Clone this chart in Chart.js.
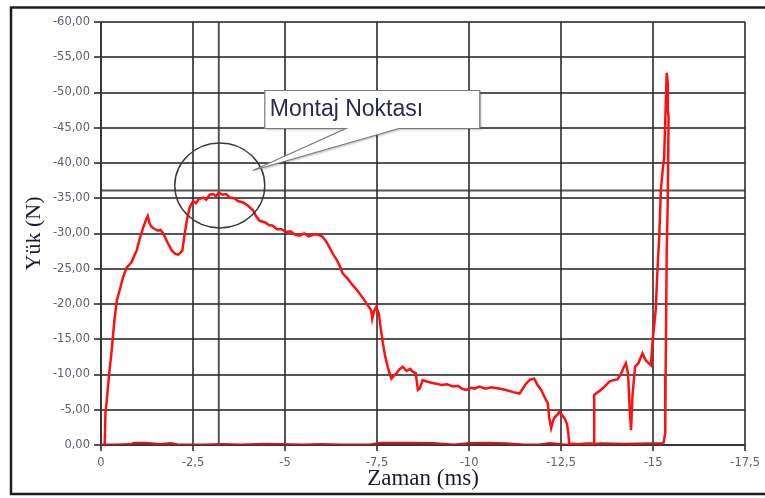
<!DOCTYPE html>
<html>
<head>
<meta charset="utf-8">
<script src="https://cdn.jsdelivr.net/npm/chart.js@4.4.1/dist/chart.umd.min.js"></script>
<style>
  html, body { margin: 0; padding: 0; background: #ffffff; }
  #wrap { width: 765px; height: 498px; }
  canvas { display: block; background: #ffffff; }
</style>
</head>
<body>
<div id="wrap"><canvas id="chart" width="765" height="498"></canvas></div>
<script>
// Load trace (time in ms, load in N): rise, plateau, release and final spike
const loadTime = [
  -0.10, -0.12, -0.16, -0.22, -0.29, -0.36, -0.43, -0.52, -0.60, -0.70,
  -0.83, -0.90, -0.97, -1.06, -1.15, -1.22, -1.27, -1.32, -1.38, -1.47,
  -1.55, -1.62, -1.69, -1.80, -1.92, -2.02, -2.10, -2.16, -2.21, -2.27,
  -2.33, -2.41, -2.50, -2.58, -2.66, -2.78, -2.86, -2.95, -3.05, -3.12,
  -3.20, -3.30, -3.40, -3.50, -3.62, -3.72, -3.86, -3.98, -4.13, -4.22,
  -4.31, -4.45, -4.56, -4.67, -4.78, -4.90, -5.04, -5.15, -5.28, -5.40,
  -5.52, -5.64, -5.81, -5.92, -6.03, -6.15, -6.30, -6.40, -6.48, -6.57,
  -6.70, -6.85, -6.98, -7.12, -7.25, -7.34, -7.37, -7.42, -7.48, -7.55,
  -7.60, -7.66, -7.72, -7.79, -7.85, -7.89, -7.95, -8.02, -8.10, -8.20,
  -8.30, -8.40, -8.47, -8.55, -8.61, -8.66, -8.74, -8.85, -9.00, -9.11,
  -9.25, -9.40, -9.56, -9.70, -9.80, -9.92, -10.05, -10.15, -10.28, -10.45,
  -10.60, -10.82, -11.00, -11.20, -11.37, -11.45, -11.55, -11.66, -11.77, -11.86,
  -11.96, -12.05, -12.14, -12.18, -12.23, -12.28, -12.32, -12.40, -12.45, -12.52,
  -12.59, -12.66, -12.70, -12.72, -13.00, -13.20, -13.40, -13.40, -13.50, -13.58,
  -13.70, -13.81, -13.92, -14.03, -14.12, -14.20, -14.26, -14.32, -14.36, -14.40,
  -14.44, -14.51, -14.60, -14.71, -14.80, -14.88, -14.94, -14.99, -15.07, -15.12,
  -15.17, -15.21, -15.26, -15.30, -15.33, -15.37, -15.40, -15.40, -15.42, -15.40,
  -15.37, -15.34, -15.33, -15.28
];
const loadForce = [
  0.0, -4.5, -6.5, -10.0, -13.4, -17.5, -20.5, -22.2, -23.8, -25.2,
  -25.9, -26.8, -27.6, -29.4, -30.9, -31.9, -32.5, -31.4, -30.9, -30.6,
  -30.4, -30.5, -30.0, -28.8, -27.6, -27.1, -27.0, -27.3, -27.6, -29.8,
  -31.8, -33.7, -34.6, -34.3, -34.9, -35.1, -34.8, -35.5, -35.6, -35.3,
  -35.8, -35.5, -35.6, -35.1, -35.0, -34.6, -34.4, -34.0, -33.3, -32.4,
  -31.8, -31.6, -31.2, -31.1, -30.6, -30.6, -30.2, -30.3, -29.8, -29.7,
  -30.0, -29.6, -29.9, -29.8, -29.5, -28.6, -27.1, -26.3, -25.5, -24.3,
  -23.6, -22.6, -21.8, -20.8, -19.8, -19.1, -17.9, -19.0, -19.6, -18.6,
  -16.5, -14.4, -12.6, -11.1, -10.0, -9.4, -9.8, -10.1, -10.7, -11.1,
  -10.5, -10.8, -10.4, -10.2, -7.8, -8.0, -9.2, -9.0, -8.8, -8.7,
  -8.5, -8.6, -8.3, -8.4, -8.0, -7.8, -8.1, -8.0, -8.3, -8.0,
  -8.2, -8.0, -7.8, -7.5, -7.3, -7.9, -8.7, -9.3, -9.4, -8.5,
  -7.8, -6.8, -5.9, -3.8, -2.4, -3.4, -3.9, -4.3, -4.7, -4.3,
  -3.8, -3.0, -1.5, -0.2, -0.1, -0.2, -0.2, -7.1, -7.5, -7.8,
  -8.4, -9.0, -9.2, -9.3, -10.0, -11.0, -11.6, -10.1, -5.5, -2.1,
  -7.0, -11.1, -11.6, -13.0, -12.0, -11.6, -11.3, -14.9, -19.1, -25.0,
  -30.0, -36.1, -39.0, -40.8, -46.0, -52.8, -51.2, -47.5, -46.5, -35.0,
  -27.6, -10.0, -1.7, -0.2
];
// Return path along the zero line
const returnTime = [
  -15.28, -15.0, -14.2, -13.6, -13.0, -12.6, -12.2, -11.9, -11.5, -11.0,
  -10.5, -10.0, -9.6, -9.0, -8.4, -7.6, -7.3, -6.5, -6.0, -5.5,
  -4.5, -3.8, -3.3, -2.8, -2.1, -1.9, -1.6, -1.2, -0.9, -0.8,
  -0.4, 0.0
];
const returnForce = [
  -0.2, -0.2, -0.15, -0.2, -0.05, -0.05, -0.25, -0.05, -0.05, -0.2,
  -0.3, -0.25, -0.05, -0.25, -0.3, -0.3, -0.05, -0.05, -0.1, -0.05,
  -0.15, -0.05, -0.1, -0.05, -0.05, -0.25, -0.1, -0.3, -0.3, -0.1,
  -0.05, -0.05
];
const timeTicks = [0, -2.5, -5, -7.5, -10, -12.5, -15, -17.5];
const loadTicks = [0, -5, -10, -15, -20, -25, -30, -35, -40, -45, -50, -55, -60];

// Mounting point marker
const markerTime = -3.2;
const markerLoad = -36.1;
const markerLabel = 'Montaj Noktası';

const gridColor = 'rgba(48,48,48,0.82)';
const tickColor = '#5f6070';
const titleColor = '#1b1b36';

const decorations = {
  id: 'decorations',
  beforeDatasetsDraw(chart) {
    const { ctx, chartArea: a, scales: { x, y } } = chart;
    const px = x.getPixelForValue(markerTime);
    const py = y.getPixelForValue(markerLoad);
    ctx.save();
    ctx.strokeStyle = gridColor;
    ctx.lineWidth = 2;
    ctx.beginPath();
    ctx.moveTo(px, a.top); ctx.lineTo(px, a.bottom);
    ctx.moveTo(a.left, py); ctx.lineTo(a.right, py);
    ctx.stroke();
    ctx.restore();
  },
  afterDatasetsDraw(chart) {
    const { ctx, scales: { x, y } } = chart;
    const px = x.getPixelForValue(markerTime);
    const py = y.getPixelForValue(markerLoad);
    ctx.save();
    // ring around the mounting point
    ctx.strokeStyle = '#3a3a3a';
    ctx.lineWidth = 1.5;
    ctx.beginPath();
    ctx.ellipse(px + 1, py - 5, 45, 42.5, 0, 0, Math.PI * 2);
    ctx.stroke();

    // callout with tail
    const bx = px + 46, by = py - 100, bw = 215, bh = 38;
    const tipX = px + 34, tipY = py - 20;
    ctx.shadowColor = 'rgba(0,0,0,0.25)';
    ctx.shadowOffsetX = 1.5;
    ctx.shadowOffsetY = 1.5;
    ctx.shadowBlur = 2;
    ctx.fillStyle = '#ffffff';
    ctx.strokeStyle = '#7a7a7a';
    ctx.lineWidth = 1.2;
    ctx.beginPath();
    ctx.moveTo(bx, by);
    ctx.lineTo(bx + bw, by);
    ctx.lineTo(bx + bw, by + bh);
    ctx.lineTo(bx + 134, by + bh);
    ctx.lineTo(tipX, tipY);
    ctx.lineTo(bx + 81, by + bh);
    ctx.lineTo(bx, by + bh);
    ctx.closePath();
    ctx.fill();
    ctx.shadowColor = 'transparent';
    ctx.stroke();

    ctx.fillStyle = '#2a2a52';
    ctx.font = '23px "Liberation Sans", Arial, sans-serif';
    ctx.textBaseline = 'middle';
    ctx.textAlign = 'left';
    ctx.fillText(markerLabel, bx + 5, by + bh / 2);
    ctx.restore();
  },
  afterDraw(chart) {
    const { ctx, width, height } = chart;
    ctx.save();
    ctx.strokeStyle = '#1e1e1e';
    ctx.lineWidth = 2.5;
    ctx.beginPath();
    ctx.moveTo(width + 5, 7.5);
    ctx.lineTo(11, 7.5);
    ctx.lineTo(11, height - 4);
    ctx.lineTo(width + 5, height - 4);
    ctx.stroke();
    ctx.restore();
  }
};

const toPoints = (xs, ys) => xs.map((t, i) => ({ x: t, y: ys[i] }));

new Chart(document.getElementById('chart'), {
  type: 'scatter',
  data: {
    datasets: [
      {
        data: toPoints(loadTime, loadForce),
        showLine: true,
        borderColor: '#ff1010',
        borderWidth: 2.5,
        pointRadius: 0,
        tension: 0
      },
      {
        data: toPoints(returnTime, returnForce),
        showLine: true,
        borderColor: '#c41a1a',
        borderWidth: 2.5,
        pointRadius: 0,
        tension: 0
      }
    ]
  },
  options: {
    responsive: false,
    animation: false,
    events: [],
    layout: { padding: { left: 0, right: 19, top: 22, bottom: 0 } },
    plugins: { legend: { display: false }, tooltip: { enabled: false } },
    scales: {
      x: {
        type: 'linear',
        reverse: true,
        min: -17.5,
        max: 0,
        afterBuildTicks(scale) { scale.ticks = timeTicks.map(v => ({ value: v })); },
        afterFit(scale) { scale.height = 53; },
        grid: { color: gridColor, lineWidth: 2, tickLength: 6 },
        border: { color: gridColor, width: 2 },
        ticks: {
          autoSkip: false,
          maxRotation: 0,
          padding: 5,
          color: tickColor,
          font: { family: '"DejaVu Sans", sans-serif', size: 11.5 },
          callback: v => (v === 0 ? '0' : String(Math.round(v * 10) / 10).replace('.', ','))
        },
        title: {
          display: true,
          text: 'Zaman (ms)',
          color: titleColor,
          font: { family: '"Liberation Serif", "Times New Roman", serif', size: 23 },
          padding: { top: 0, bottom: 5 }
        }
      },
      y: {
        type: 'linear',
        reverse: true,
        min: -60,
        max: 0,
        afterBuildTicks(scale) { scale.ticks = loadTicks.map(v => ({ value: v })); },
        afterFit(scale) { scale.width = 101; },
        grid: { color: gridColor, lineWidth: 2, tickLength: 7 },
        border: { color: gridColor, width: 2 },
        ticks: {
          padding: 4,
          color: tickColor,
          font: { family: '"DejaVu Sans", sans-serif', size: 11.5 },
          callback: v => Number(v).toFixed(2).replace('.', ',').replace(/^-0,00$/, '0,00')
        },
        title: {
          display: true,
          text: 'Yük (N)',
          color: titleColor,
          font: { family: '"Liberation Serif", "Times New Roman", serif', size: 22 },
          padding: { top: 21, bottom: 0 }
        }
      }
    }
  },
  plugins: [decorations]
});
</script>
</body>
</html>
